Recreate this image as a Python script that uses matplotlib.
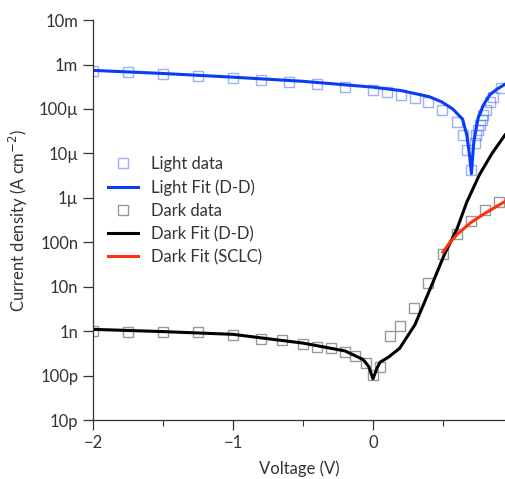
import numpy as np
import matplotlib
matplotlib.use("Agg")
import matplotlib.pyplot as plt
from matplotlib.ticker import FixedLocator, LogLocator, NullFormatter, MultipleLocator

plt.rcParams['font.family'] = ['Lato', 'DejaVu Sans']

# light data (V, J in A/cm2)
light_v = [-2.0, -1.75, -1.5, -1.25, -1.0, -0.8, -0.6, -0.4, -0.2, 0.0, 0.1, 0.2, 0.3, 0.39,
           0.49, 0.6, 0.64, 0.67, 0.70, 0.73, 0.735, 0.75, 0.765, 0.78, 0.785, 0.81, 0.835, 0.857, 0.914]
light_j = [7.1e-4, 6.8e-4, 6.1e-4, 5.5e-4, 4.95e-4, 4.47e-4, 4.03e-4, 3.63e-4, 3.1e-4, 2.66e-4,
           2.4e-4, 2.04e-4, 1.76e-4, 1.43e-4, 9.4e-5, 5.1e-5, 2.6e-5, 1.19e-5, 4.2e-6,
           1.7e-5, 2.6e-5, 3.35e-5, 4.4e-5, 5.6e-5, 7.2e-5, 9.4e-5, 1.43e-4, 1.86e-4, 2.9e-4]

light_fit_v = [-2.0, -1.5, -1.0, -0.5, 0.0, 0.2, 0.4, 0.49, 0.57, 0.64, 0.67, 0.69, 0.703,
               0.72, 0.75, 0.79, 0.835, 0.886, 0.943]
light_fit_j = [7.4e-4, 6.3e-4, 5.2e-4, 4.2e-4, 3.1e-4, 2.6e-4, 1.9e-4, 1.45e-4, 1.0e-4,
               5.9e-5, 2.6e-5, 9.0e-6, 3.5e-6, 1.8e-5, 6.1e-5, 1.25e-4, 2.1e-4, 2.8e-4, 3.6e-4]

dark_v = [-2.0, -1.75, -1.5, -1.25, -1.0, -0.8, -0.65, -0.5, -0.4, -0.3, -0.2, -0.13, -0.05,
          0.0, 0.05, 0.12, 0.19, 0.29, 0.39, 0.5, 0.6, 0.7, 0.8, 0.9]
dark_j = [1.0e-9, 9.5e-10, 9.5e-10, 9.5e-10, 8.1e-10, 6.6e-10, 6.3e-10, 5.1e-10, 4.4e-10,
          4.2e-10, 3.4e-10, 2.75e-10, 1.9e-10, 1.02e-10, 1.55e-10, 7.8e-10, 1.3e-9,
          3.3e-9, 1.2e-8, 5.4e-8, 1.53e-7, 3.0e-7, 5.3e-7, 8.0e-7]

dark_fit_v = [-2.0, -1.5, -1.0, -0.5, -0.2, -0.07, -0.03, 0.0, 0.03, 0.05, 0.11, 0.19, 0.3,
              0.43, 0.51, 0.6, 0.67, 0.76, 0.85, 0.943]
dark_fit_j = [1.1e-9, 9.8e-10, 8.5e-10, 5.4e-10, 3.6e-10, 2.3e-10, 1.6e-10, 8.5e-11, 1.5e-10,
              2.0e-10, 2.6e-10, 4.1e-10, 1.4e-9, 1.3e-8, 5.3e-8, 2.0e-7, 8.0e-7, 3.3e-6,
              1.0e-5, 2.6e-5]

sclc_v = [0.5, 0.55, 0.6, 0.7, 0.8, 0.943]
sclc_j = [6.0e-8, 1.0e-7, 1.5e-7, 2.8e-7, 4.5e-7, 8.3e-7]

yticks = [1e-11, 1e-10, 1e-9, 1e-8, 1e-7, 1e-6, 1e-5, 1e-4, 1e-3, 1e-2]
ylabels = ['10p', '100p', '1n', '10n', '100n', '1µ', '10µ', '100µ', '1m', '10m']

fig = plt.figure(figsize=(5.05, 4.79), dpi=100)
ax = fig.add_axes([0.184, 0.123, 0.816, 0.835])

ax.plot(light_v, light_j, 's', ls='none', ms=7, mfc='none', mec='#3c64f0', mew=1.0,
        alpha=0.5, label='Light data')
ax.plot(light_fit_v, light_fit_j, '-', color='#0a3cf5', lw=2.2, label='Light Fit (D-D)')
ax.plot(dark_v, dark_j, 's', ls='none', ms=7, mfc='none', mec='#999999', mew=1.0,
        label='Dark data')
ax.plot(dark_fit_v, dark_fit_j, '-', color='black', lw=2.2, label='Dark Fit (D-D)')
ax.plot(sclc_v, sclc_j, '-', color='#ff3010', lw=2.2, label='Dark Fit (SCLC)')

ax.set_yscale('log')
ax.set_ylim(1e-11, 1e-2)
ax.set_xlim(-2, 0.943)
ax.yaxis.set_major_locator(FixedLocator(yticks))
ax.set_yticklabels(ylabels)
ax.yaxis.set_minor_locator(LogLocator(base=10, subs=np.arange(2, 10)))
ax.yaxis.set_minor_formatter(NullFormatter())
ax.xaxis.set_major_locator(FixedLocator([-2, -1, 0]))
ax.set_xticklabels(['\u22122', '\u22121', '0'])
ax.xaxis.set_minor_locator(MultipleLocator(0.5))

ax.spines['top'].set_visible(False)
ax.spines['right'].set_visible(False)
for s in ['left', 'bottom']:
    ax.spines[s].set_color('#333333')
    ax.spines[s].set_linewidth(0.9)
ax.tick_params(which='major', direction='out', length=7, width=0.9, color='#333333',
               labelsize=12, labelcolor='#333333')
ax.tick_params(which='minor', direction='out', length=4, width=0.8, color='#333333')

ax.set_xlabel('Voltage (V)', fontsize=12, color='#333333', labelpad=7)
ax.set_ylabel('Current density (A cm$^{-2}$)', fontsize=12, color='#333333', labelpad=6)

ax.legend(loc='upper left', bbox_to_anchor=(0.0, 0.697), frameon=False, fontsize=12,
          handlelength=1.8, labelspacing=0.42, handletextpad=0.8, labelcolor='#333333')

fig.savefig('out.png', dpi=100)
